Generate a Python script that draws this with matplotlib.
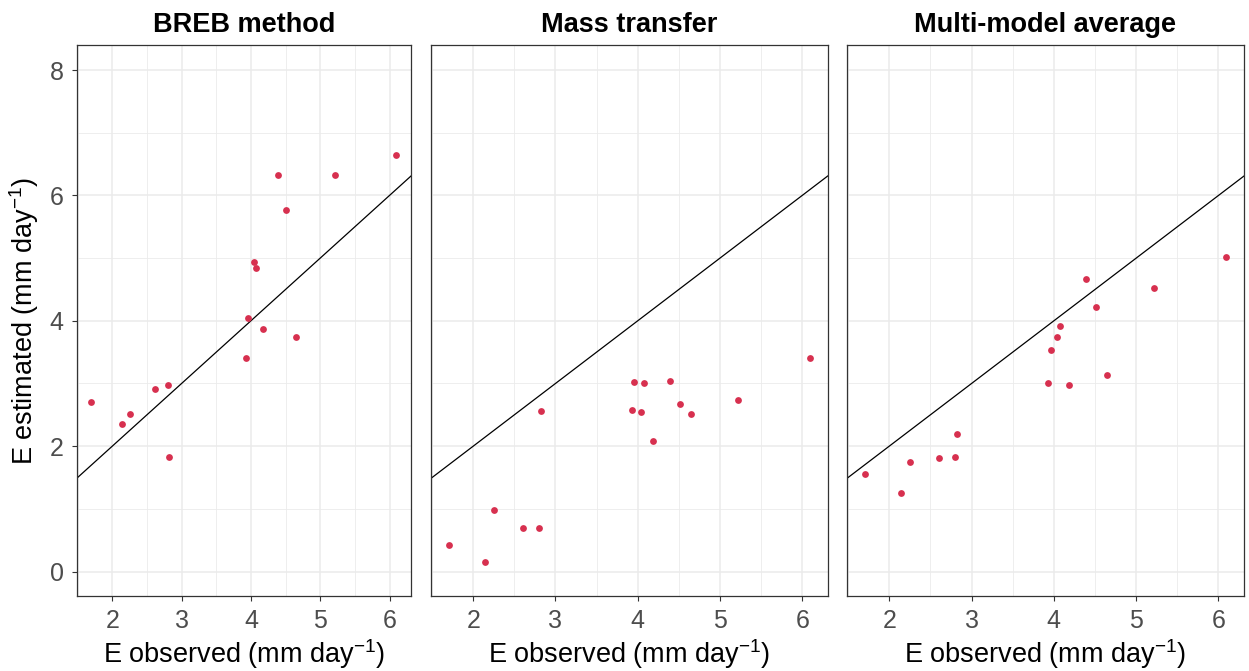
import matplotlib
matplotlib.use("Agg")
import matplotlib.pyplot as plt
from matplotlib.ticker import MultipleLocator

plt.rcParams['font.family'] = ['Liberation Sans', 'DejaVu Sans']
plt.rcParams['mathtext.fontset'] = 'custom'
plt.rcParams['mathtext.rm'] = 'Liberation Sans'
plt.rcParams['mathtext.it'] = 'Liberation Sans:italic'

# observed daily evaporation (mm/day)
e_obs = [1.70, 2.14, 2.25, 2.61, 2.80, 2.82, 3.93, 3.96,
         4.04, 4.08, 4.18, 4.39, 4.51, 4.65, 5.22, 6.09]

# estimated evaporation per method
e_breb = [2.71, 2.36, 2.52, 2.92, 2.97, 1.83, 3.41, 4.04,
          4.94, 4.84, 3.87, 6.32, 5.76, 3.74, 6.33, 6.65]
e_mass = [0.42, 0.15, 0.98, 0.69, 0.70, 2.56, 2.58, 3.03,
          2.54, 3.01, 2.09, 3.04, 2.67, 2.52, 2.73, 3.41]
e_avg = [1.56, 1.25, 1.75, 1.81, 1.83, 2.20, 3.00, 3.54,
         3.74, 3.92, 2.98, 4.67, 4.22, 3.13, 4.52, 5.02]

titles = ["BREB method", "Mass transfer", "Multi-model average"]
series = [e_breb, e_mass, e_avg]

W, H = 1249, 671
fig = plt.figure(figsize=(W / 100, H / 100), dpi=100)

# panel boxes in pixels: left, right
boxes = [(76.7, 411), (431, 827.7), (847, 1244)]
top, bottom = 45, 596

xlim = (1.487, 6.31)
ylim = (-0.39, 8.4)
pt_col = "#D7304F"

for i, ((l, r), title, est) in enumerate(zip(boxes, titles, series)):
    ax = fig.add_axes([l / W, 1 - bottom / H, (r - l) / W, (bottom - top) / H])
    ax.set_xlim(*xlim)
    ax.set_ylim(*ylim)
    ax.xaxis.set_major_locator(MultipleLocator(1))
    ax.xaxis.set_minor_locator(MultipleLocator(0.5))
    ax.yaxis.set_major_locator(MultipleLocator(2))
    ax.yaxis.set_minor_locator(MultipleLocator(1))
    ax.grid(which='major', color='#EBEBEB', linewidth=1.1, zorder=0)
    ax.grid(which='minor', color='#EBEBEB', linewidth=0.6, zorder=0)
    ax.set_axisbelow(True)

    # 1:1 line
    ax.plot(xlim, xlim, color='black', linewidth=0.9, zorder=2)
    ax.scatter(e_obs, est, s=24, color=pt_col, linewidths=0, zorder=3)

    for sp in ax.spines.values():
        sp.set_color('#333333')
        sp.set_linewidth(0.9)
    ax.tick_params(which='minor', length=0)
    ax.tick_params(which='major', length=3.5, width=0.8, color='#333333',
                   labelsize=18, labelcolor='#4D4D4D', pad=6)

    ax.set_title(title, fontsize=19.5, fontweight='bold', pad=9)
    ax.set_xlabel("E observed (mm day$^{-1}$)", fontsize=19.5, labelpad=3)
    if i == 0:
        ax.set_ylabel("E estimated (mm day$^{-1}$)", fontsize=19.5, labelpad=6)
    else:
        ax.tick_params(axis='y', which='both', left=False, labelleft=False)

fig.savefig("out.png", dpi=100)
